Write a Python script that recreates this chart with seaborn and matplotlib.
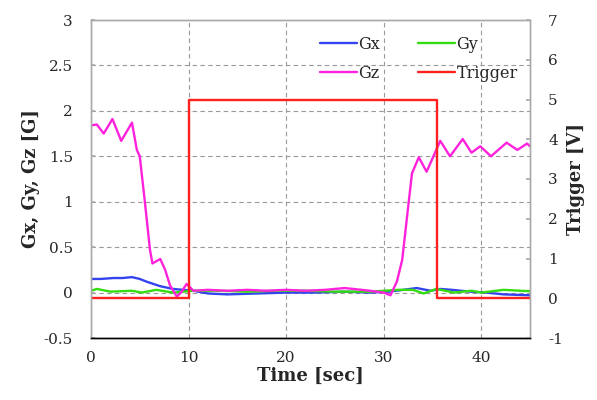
import matplotlib
matplotlib.use("Agg")
import matplotlib.pyplot as plt
import seaborn as sns

sns.set_theme(style="white")
plt.rcParams["font.family"] = ["DejaVu Serif"]
plt.rcParams["axes.unicode_minus"] = False

# Magnetic field components [G] versus time [sec]
gz_time = [0.0, 0.6, 1.3, 2.2, 3.1, 4.2, 4.7, 5.0, 5.5, 6.05, 6.3, 7.1, 7.6, 8.1, 8.8,
           9.3, 9.8, 10.5, 12.0, 14.0, 16.0, 18.0, 20.0, 22.0, 24.0, 26.0, 28.6, 30.0,
           30.7, 31.35, 31.9, 32.4, 32.9, 33.6, 34.4, 35.8, 36.8, 38.1, 39.0, 39.9, 41.0,
           42.6, 43.7, 44.7, 45.0]
gz_vals = [1.84, 1.85, 1.75, 1.91, 1.67, 1.87, 1.57, 1.50, 1.02, 0.47, 0.32, 0.37, 0.25,
           0.08, -0.045, 0.01, 0.095, 0.02, 0.03, 0.02, 0.03, 0.02, 0.03, 0.02, 0.03, 0.05,
           0.02, 0.0, -0.03, 0.12, 0.36, 0.84, 1.31, 1.49, 1.33, 1.67, 1.50, 1.69, 1.54,
           1.61, 1.50, 1.65, 1.57, 1.64, 1.61]

gx_time = [0.0, 1.0, 2.3, 3.2, 4.2, 5.0, 5.7, 7.1, 8.4, 10.5, 12.0, 14.0, 17.0, 20.0,
           23.0, 26.0, 28.6, 30.5, 32.0, 33.4, 34.8, 35.8, 37.0, 38.9, 40.5, 42.3, 45.0]
gx_vals = [0.15, 0.15, 0.16, 0.16, 0.17, 0.15, 0.12, 0.07, 0.04, 0.02, -0.01, -0.02,
           -0.01, 0.0, 0.0, 0.01, 0.0, 0.01, 0.03, 0.05, 0.02, 0.04, 0.03, 0.01, 0.0,
           -0.02, -0.03]

gy_time = [0.0, 0.6, 2.0, 4.2, 5.2, 6.7, 8.4, 10.5, 13.0, 16.0, 19.0, 22.0, 25.0, 28.6,
           31.5, 33.0, 34.1, 35.4, 37.2, 39.0, 40.0, 42.3, 44.0, 45.0]
gy_vals = [0.02, 0.04, 0.01, 0.02, 0.0, 0.03, 0.0, 0.02, 0.02, 0.01, 0.02, 0.02, 0.01,
           0.01, 0.03, 0.03, -0.01, 0.04, 0.0, 0.02, 0.0, 0.03, 0.02, 0.015]

# Trigger signal [V]
trig_time = [0.0, 10.0, 10.0, 35.5, 35.5, 45.0]
trig_vals = [0.0, 0.0, 5.0, 5.0, 0.0, 0.0]

c_gx, c_gy, c_gz, c_trig = "#3344ee", "#33dd11", "#ff22dd", "#ff2020"

fig = plt.figure(figsize=(5.97, 4.0), dpi=100)
ax = fig.add_axes([0.1524, 0.155, 0.7354, 0.795])
ax2 = ax.twinx()

lw = 1.7
common = dict(sort=False, estimator=None, legend=False)
sns.lineplot(x=gx_time, y=gx_vals, ax=ax, color=c_gx, lw=lw, **common)
sns.lineplot(x=gy_time, y=gy_vals, ax=ax, color=c_gy, lw=lw, **common)
sns.lineplot(x=gz_time, y=gz_vals, ax=ax, color=c_gz, lw=lw, **common)
sns.lineplot(x=trig_time, y=trig_vals, ax=ax2, color=c_trig, lw=lw, **common)

ax.set_xlim(0, 45)
ax.set_ylim(-0.5, 3)
ax2.set_ylim(-1, 7)
ax.set_xticks([0, 10, 20, 30, 40])
ax.set_yticks([-0.5, 0, 0.5, 1, 1.5, 2, 2.5, 3])
ax.set_yticklabels(["-0.5", "0", "0.5", "1", "1.5", "2", "2.5", "3"])
ax2.set_yticks(range(-1, 8))

ax.grid(True, color="#999999", linestyle=(0, (4, 3)), linewidth=0.8)
ax.set_axisbelow(True)

for a in (ax, ax2):
    for s in a.spines.values():
        s.set_color("#aaaaaa")
        s.set_linewidth(1.0)
    a.spines["bottom"].set_color("black")
ax.tick_params(axis="y", direction="in", length=3, labelsize=11, color="#aaaaaa", pad=13)
ax.tick_params(axis="x", length=0, labelsize=11, pad=9)
ax2.tick_params(axis="y", direction="in", length=3, labelsize=11, color="#aaaaaa", pad=13)

ax.set_xlabel("Time [sec]", fontsize=13, fontweight="bold", labelpad=2)
ax.set_ylabel("Gx, Gy, Gz [G]", fontsize=13, fontweight="bold", labelpad=3)
ax2.set_ylabel("Trigger [V]", fontsize=13, fontweight="bold", labelpad=3)

lines = ax.get_lines()[:3] + ax2.get_lines()[:1]
names = ["Gx", "Gy", "Gz", "Trigger"]
# column-major fill: first column Gx, Gz; second column Gy, Trigger
order = [0, 2, 1, 3]
ax.legend([lines[i] for i in order], [names[i] for i in order], ncol=2,
          loc="upper right", bbox_to_anchor=(1.005, 0.995), frameon=False, fontsize=11.5,
          handlelength=2.3, handletextpad=0.1, columnspacing=2.4, labelspacing=0.75)

fig.savefig("out.png", dpi=100)
